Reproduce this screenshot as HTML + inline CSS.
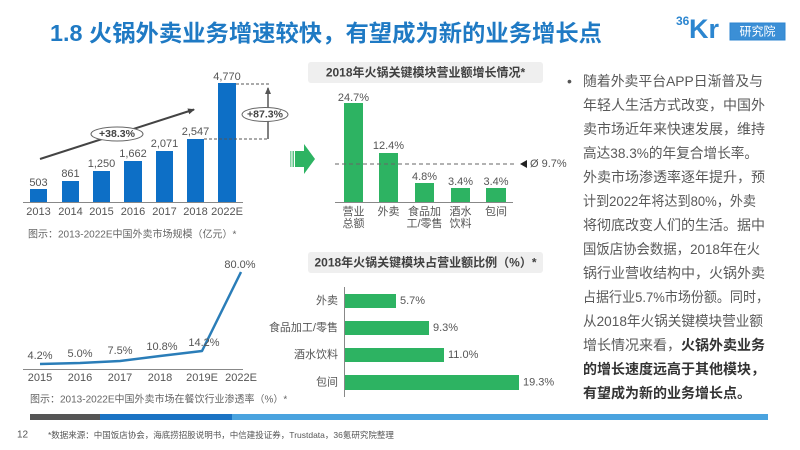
<!DOCTYPE html>
<html>
<head>
<meta charset="utf-8">
<style>
  html,body{margin:0;padding:0;background:#fff;}
  body{width:800px;height:450px;overflow:hidden;}
  svg{display:block;}
  text{font-family:"Liberation Sans","Noto Sans CJK SC",sans-serif;}
</style>
</head>
<body>
<svg width="800" height="450" viewBox="0 0 800 450" xmlns="http://www.w3.org/2000/svg">
  <defs>
    <marker id="ah" markerWidth="8" markerHeight="8" refX="6" refY="4" orient="auto" markerUnits="userSpaceOnUse">
      <path d="M0,1 L7,4 L0,7 Z" fill="#444"/>
    </marker>
    <marker id="ah2" markerWidth="8" markerHeight="8" refX="6" refY="4" orient="auto" markerUnits="userSpaceOnUse">
      <path d="M0,1 L7,4 L0,7 Z" fill="#555"/>
    </marker>
  </defs>

  <!-- Title -->
  <text x="50" y="33" font-size="23" font-weight="bold" fill="#1f7ac4" dominant-baseline="central" textLength="552" lengthAdjust="spacingAndGlyphs">1.8 火锅外卖业务增速较快，有望成为新的业务增长点</text>

  <!-- Logo -->
  <text x="676" y="21" font-size="12" font-weight="bold" fill="#2c86d0" dominant-baseline="central">36</text>
  <text x="689" y="29" font-size="27" font-weight="bold" fill="#2c86d0" dominant-baseline="central">Kr</text>
  <rect x="730" y="23" width="55" height="17" fill="#3b8fd6" stroke="#2c86d0"/>
  <text x="757.5" y="31.5" font-size="12" fill="#fff" text-anchor="middle" dominant-baseline="central">研究院</text>

  <!-- ===== Chart 1: market size bars ===== -->
  <g fill="#0d6fc6">
    <rect x="30" y="189" width="17" height="13"/>
    <rect x="62" y="181" width="17" height="21"/>
    <rect x="93" y="171" width="17" height="31"/>
    <rect x="124" y="161" width="18" height="41"/>
    <rect x="156" y="151" width="17" height="51"/>
    <rect x="187" y="139" width="17" height="63"/>
    <rect x="218" y="83" width="18" height="119"/>
  </g>
  <line x1="23" y1="202.5" x2="243" y2="202.5" stroke="#888" stroke-width="1"/>
  <g font-size="11" fill="#555" text-anchor="middle" dominant-baseline="central">
    <text x="38.5" y="183">503</text>
    <text x="70.5" y="174">861</text>
    <text x="101.5" y="164">1,250</text>
    <text x="133" y="154">1,662</text>
    <text x="164.5" y="144">2,071</text>
    <text x="195.5" y="132">2,547</text>
    <text x="227" y="77">4,770</text>
  </g>
  <g font-size="11" fill="#555" text-anchor="middle" dominant-baseline="central">
    <text x="38.5" y="212">2013</text>
    <text x="70.5" y="212">2014</text>
    <text x="101.5" y="212">2015</text>
    <text x="133" y="212">2016</text>
    <text x="164.5" y="212">2017</text>
    <text x="195.5" y="212">2018</text>
    <text x="227" y="212">2022E</text>
  </g>
  <!-- trend arrow -->
  <line x1="40" y1="159" x2="194" y2="109.5" stroke="#444" stroke-width="2" marker-end="url(#ah)"/>
  <ellipse cx="117" cy="134" rx="26" ry="7" fill="#fff" stroke="#666" stroke-width="1"/>
  <text x="117" y="134" font-size="10.5" font-weight="bold" fill="#444" text-anchor="middle" dominant-baseline="central">+38.3%</text>
  <!-- +87.3% annotation -->
  <line x1="236" y1="84" x2="269" y2="84" stroke="#555" stroke-width="1" stroke-dasharray="3,2"/>
  <line x1="204" y1="139" x2="269" y2="139" stroke="#555" stroke-width="1" stroke-dasharray="3,2"/>
  <line x1="268" y1="139" x2="268" y2="88" stroke="#555" stroke-width="1.5" marker-end="url(#ah2)"/>
  <ellipse cx="265" cy="114.5" rx="23" ry="7" fill="#fff" stroke="#666" stroke-width="1"/>
  <text x="265" y="114.5" font-size="10.5" font-weight="bold" fill="#444" text-anchor="middle" dominant-baseline="central">+87.3%</text>
  <text x="28" y="235" font-size="10" fill="#666" dominant-baseline="central">图示：2013-2022E中国外卖市场规模（亿元）*</text>

  <!-- Green arrow -->
  <g fill="#2db362">
    <rect x="290" y="151" width="1.5" height="16" opacity="0.6"/>
    <rect x="292.5" y="151" width="1.5" height="16" opacity="0.8"/>
    <rect x="295" y="151" width="10" height="16"/>
    <polygon points="304,144 315,159 304,174"/>
  </g>

  <!-- ===== Chart 2: growth bars ===== -->
  <rect x="308" y="62" width="235" height="21" rx="3" fill="#efefef"/>
  <text x="425.5" y="72.5" font-size="12" font-weight="bold" fill="#404040" text-anchor="middle" dominant-baseline="central">2018年火锅关键模块营业额增长情况*</text>
  <g fill="#2db362">
    <rect x="344" y="103" width="19" height="99"/>
    <rect x="379" y="153" width="19" height="49"/>
    <rect x="415" y="183" width="19" height="19"/>
    <rect x="451" y="188" width="19" height="14"/>
    <rect x="486" y="188" width="20" height="14"/>
  </g>
  <line x1="335" y1="202.5" x2="513" y2="202.5" stroke="#888" stroke-width="1"/>
  <line x1="335" y1="164" x2="515" y2="164" stroke="#666" stroke-width="1" stroke-dasharray="4,3"/>
  <polygon points="520,164 527,160 527,168" fill="#222"/>
  <text x="530" y="164" font-size="11" fill="#555" dominant-baseline="central">Ø 9.7%</text>
  <g font-size="11" fill="#555" text-anchor="middle" dominant-baseline="central">
    <text x="353.5" y="98">24.7%</text>
    <text x="388.5" y="146">12.4%</text>
    <text x="424.5" y="177">4.8%</text>
    <text x="460.5" y="182">3.4%</text>
    <text x="496" y="182">3.4%</text>
  </g>
  <g font-size="11" fill="#555" text-anchor="middle" dominant-baseline="central">
    <text x="353.5" y="212">营业</text>
    <text x="353.5" y="224">总额</text>
    <text x="388.5" y="212">外卖</text>
    <text x="424.5" y="212">食品加</text>
    <text x="424.5" y="224">工/零售</text>
    <text x="460.5" y="212">酒水</text>
    <text x="460.5" y="224">饮料</text>
    <text x="496" y="212">包间</text>
  </g>

  <!-- ===== Chart 3: penetration line ===== -->
  <line x1="23" y1="369.5" x2="243" y2="369.5" stroke="#888" stroke-width="1"/>
  <polyline points="40,364 80,363 120,361 160,356 202,351 241,272" fill="none" stroke="#2a7db8" stroke-width="2.5" stroke-linejoin="round"/>
  <g font-size="11" fill="#555" text-anchor="middle" dominant-baseline="central">
    <text x="40" y="356">4.2%</text>
    <text x="80" y="354">5.0%</text>
    <text x="120" y="351">7.5%</text>
    <text x="162" y="347">10.8%</text>
    <text x="204" y="343">14.2%</text>
    <text x="240" y="265">80.0%</text>
  </g>
  <g font-size="11" fill="#555" text-anchor="middle" dominant-baseline="central">
    <text x="40" y="378">2015</text>
    <text x="80" y="378">2016</text>
    <text x="120" y="378">2017</text>
    <text x="160" y="378">2018</text>
    <text x="202" y="378">2019E</text>
    <text x="241" y="378">2022E</text>
  </g>
  <text x="30" y="400" font-size="10" fill="#666" dominant-baseline="central">图示：2013-2022E中国外卖市场在餐饮行业渗透率（%）*</text>

  <!-- ===== Chart 4: share horizontal bars ===== -->
  <rect x="308" y="252" width="235" height="21" rx="3" fill="#efefef"/>
  <text x="425.5" y="262.5" font-size="12" font-weight="bold" fill="#404040" text-anchor="middle" dominant-baseline="central">2018年火锅关键模块占营业额比例（%）*</text>
  <line x1="344.5" y1="287" x2="344.5" y2="397" stroke="#888" stroke-width="1"/>
  <g fill="#2db362">
    <rect x="345" y="294" width="51" height="14"/>
    <rect x="345" y="321" width="84" height="14"/>
    <rect x="345" y="348" width="99" height="14"/>
    <rect x="345" y="375" width="174" height="15"/>
  </g>
  <g font-size="11" fill="#555" text-anchor="end" dominant-baseline="central">
    <text x="338" y="301">外卖</text>
    <text x="338" y="328">食品加工/零售</text>
    <text x="338" y="355">酒水饮料</text>
    <text x="338" y="382.5">包间</text>
  </g>
  <g font-size="11" fill="#555" dominant-baseline="central">
    <text x="400" y="301">5.7%</text>
    <text x="433" y="328">9.3%</text>
    <text x="448" y="355">11.0%</text>
    <text x="523" y="382.5">19.3%</text>
  </g>

  <!-- ===== Right text ===== -->
  <text x="567" y="81" font-size="14" fill="#555" dominant-baseline="central">•</text>
  <g font-size="14" fill="#595959" dominant-baseline="central">
    <text x="583" y="81" textLength="180" lengthAdjust="spacingAndGlyphs">随着外卖平台APP日渐普及与</text>
    <text x="583" y="105">年轻人生活方式改变，中国外</text>
    <text x="583" y="129">卖市场近年来快速发展，维持</text>
    <text x="583" y="153" textLength="175" lengthAdjust="spacingAndGlyphs">高达38.3%的年复合增长率。</text>
    <text x="583" y="177">外卖市场渗透率逐年提升，预</text>
    <text x="583" y="201" textLength="173" lengthAdjust="spacingAndGlyphs">计到2022年将达到80%，外卖</text>
    <text x="583" y="225">将彻底改变人们的生活。据中</text>
    <text x="583" y="249" textLength="177" lengthAdjust="spacingAndGlyphs">国饭店协会数据，2018年在火</text>
    <text x="583" y="273">锅行业营收结构中，火锅外卖</text>
    <text x="583" y="297" textLength="186" lengthAdjust="spacingAndGlyphs">占据行业5.7%市场份额。同时，</text>
    <text x="583" y="321" textLength="180" lengthAdjust="spacingAndGlyphs">从2018年火锅关键模块营业额</text>
    <text x="583" y="345">增长情况来看，<tspan font-weight="bold" fill="#333">火锅外卖业务</tspan></text>
    <text x="583" y="369" font-weight="bold" fill="#333">的增长速度远高于其他模块，</text>
    <text x="583" y="393" font-weight="bold" fill="#333">有望成为新的业务增长点。</text>
  </g>

  <!-- ===== Footer ===== -->
  <rect x="30" y="414" width="70" height="6" fill="#555"/>
  <rect x="100" y="414" width="132" height="6" fill="#1a73c4"/>
  <rect x="232" y="414" width="536" height="6" fill="#4aa3df"/>
  <text x="17" y="435" font-size="10" fill="#555" dominant-baseline="central">12</text>
  <text x="48" y="435" font-size="8.5" fill="#555" dominant-baseline="central">*数据来源：中国饭店协会，海底捞招股说明书，中信建投证券，Trustdata，36氪研究院整理</text>
</svg>
</body>
</html>
